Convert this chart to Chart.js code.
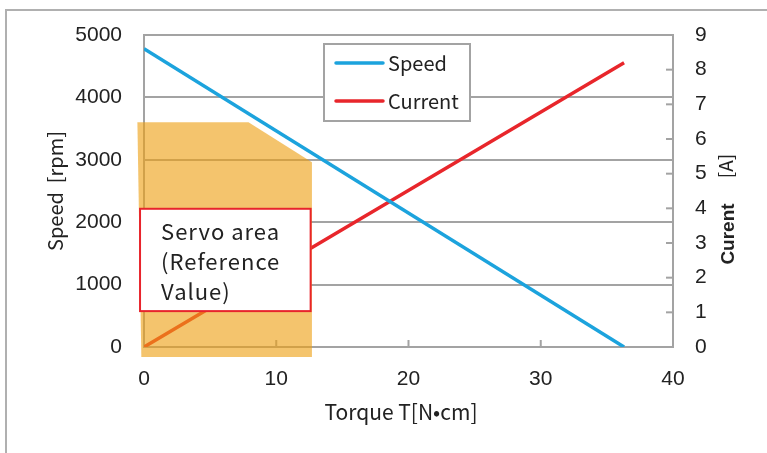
<!DOCTYPE html>
<html>
<head>
<meta charset="utf-8">
<script src="https://cdn.jsdelivr.net/npm/chart.js@4.4.1/dist/chart.umd.min.js"></script>
<style>
  html, body { margin: 0; padding: 0; background: #fff; }
  #wrap { position: relative; width: 767px; height: 453px; overflow: hidden; }
  #frame { position: absolute; left: 5px; top: 9px; width: 900px; height: 600px;
           border-left: 2px solid #b0b0b0; border-top: 2px solid #b0b0b0; }
  canvas { position: absolute; left: 0; top: 0; }
</style>
</head>
<body>
<div id="wrap">
  <div id="frame"></div>
  <canvas id="torqueChart" width="767" height="453"></canvas>
</div>
<script>
// data
const torque = [0, 36.3];
const speed = [4780, 0];
const current = [0, 8.2];

// servo area outline (torque, speed)
const servoX = [-0.5, 7.9, 12.7, 12.7, -0.2];
const servoY = [3600, 3600, 2960, -160, -160];

const xTicks = [0, 10, 20, 30, 40];
const speedTicks = [0, 1000, 2000, 3000, 4000, 5000];
const currentTicks = [0, 1, 2, 3, 4, 5, 6, 7, 8, 9];

const servoText = ['Servo area', '(Reference', 'Value)'];

const gridColor = '#a3a3a3';
const textColor = '#222';
const tickFont = { family: '"Liberation Sans", Arial, sans-serif', size: 21 };
const labelFont = '"Noto Sans CJK JP", "Noto Sans", sans-serif';

function plainLabel(value) {
    return String(value);
}

// servo area + note box + legend + axis titles
const overlayPlugin = {
    id: 'overlay',
    afterDatasetsDraw(chart) {
        const ctx = chart.ctx;
        const x = chart.scales.x;
        const y = chart.scales.y;
        const y2 = chart.scales.y2;
        const area = chart.chartArea;

        // inner tick marks
        ctx.save();
        ctx.strokeStyle = gridColor;
        ctx.lineWidth = 2;
        xTicks.slice(1, -1).forEach(function(v) {
            const px = x.getPixelForValue(v);
            ctx.beginPath();
            ctx.moveTo(px, area.bottom);
            ctx.lineTo(px, area.bottom - 7);
            ctx.stroke();
        });
        currentTicks.slice(1, -1).forEach(function(v) {
            const py = y2.getPixelForValue(v);
            ctx.beginPath();
            ctx.moveTo(area.right, py);
            ctx.lineTo(area.right - 7, py);
            ctx.stroke();
        });
        ctx.restore();

        // servo area polygon
        ctx.save();
        ctx.fillStyle = 'rgba(237, 160, 20, 0.62)';
        ctx.beginPath();
        servoX.forEach(function(v, i) {
            const px = x.getPixelForValue(v);
            const py = y.getPixelForValue(servoY[i]);
            if (i === 0) ctx.moveTo(px, py); else ctx.lineTo(px, py);
        });
        ctx.closePath();
        ctx.fill();
        ctx.restore();

        // note box
        const bx1 = x.getPixelForValue(-0.3);
        const bx2 = x.getPixelForValue(12.6);
        const by1 = y.getPixelForValue(2215);
        const by2 = y.getPixelForValue(575);
        ctx.save();
        ctx.fillStyle = '#fff';
        ctx.fillRect(bx1, by1, bx2 - bx1, by2 - by1);
        ctx.strokeStyle = '#e8242c';
        ctx.lineWidth = 2;
        ctx.strokeRect(bx1, by1, bx2 - bx1, by2 - by1);
        ctx.fillStyle = textColor;
        ctx.font = '22px ' + labelFont;
        ctx.letterSpacing = '1px';
        ctx.textBaseline = 'middle';
        servoText.forEach(function(t, i) {
            ctx.fillText(t, bx1 + 21, by1 + 23 + i * 30);
        });
        ctx.restore();

        // legend box
        ctx.save();
        ctx.fillStyle = '#fff';
        ctx.fillRect(324, 44, 146, 77);
        ctx.strokeStyle = gridColor;
        ctx.lineWidth = 2;
        ctx.strokeRect(324, 44, 146, 77);
        ctx.font = '20px ' + labelFont;
        ctx.textBaseline = 'middle';
        [0, 1].forEach(function(i) {
            const ds = chart.data.datasets[i];
            const ly = 63 + i * 38;
            ctx.strokeStyle = ds.borderColor;
            ctx.lineWidth = 3.5;
            ctx.lineCap = 'round';
            ctx.beginPath();
            ctx.moveTo(336, ly);
            ctx.lineTo(383, ly);
            ctx.stroke();
            ctx.fillStyle = textColor;
            ctx.fillText(ds.label, 388, ly);
        });
        ctx.restore();

        // axis titles
        ctx.save();
        ctx.fillStyle = textColor;
        ctx.textBaseline = 'middle';
        ctx.textAlign = 'center';
        ctx.font = '21px ' + labelFont;
        ctx.fillText('Torque T[N•cm]', 401, 412);

        ctx.translate(55, 191);
        ctx.rotate(-Math.PI / 2);
        ctx.font = '20px ' + labelFont;
        ctx.fillText('Speed  [rpm]', 0, 0);
        ctx.restore();

        ctx.save();
        ctx.fillStyle = textColor;
        ctx.textBaseline = 'middle';
        ctx.textAlign = 'center';
        ctx.translate(729, 210);
        ctx.rotate(-Math.PI / 2);
        ctx.font = 'bold 19px "Liberation Sans", sans-serif';
        ctx.fillText('Curent', -24, 0);
        ctx.font = '19px ' + labelFont;
        ctx.fillText('[A]', 44, -3);
        ctx.restore();
    }
};

const ctx = document.getElementById('torqueChart').getContext('2d');

new Chart(ctx, {
    type: 'scatter',
    data: {
        datasets: [
            {
                label: 'Speed',
                data: torque.map((t, i) => ({ x: t, y: speed[i] })),
                yAxisID: 'y',
                showLine: true,
                borderColor: '#1ca3dd',
                borderWidth: 3.5,
                pointRadius: 0,
                fill: false
            },
            {
                label: 'Current',
                data: torque.map((t, i) => ({ x: t, y: current[i] })),
                yAxisID: 'y2',
                showLine: true,
                borderColor: '#e8262b',
                borderWidth: 3.5,
                pointRadius: 0,
                fill: false
            }
        ]
    },
    options: {
        responsive: false,
        animation: false,
        layout: { padding: { top: 35, left: 0, right: 0, bottom: 0 } },
        plugins: {
            legend: { display: false },
            tooltip: { enabled: false }
        },
        scales: {
            x: {
                type: 'linear',
                min: 0,
                max: 40,
                afterFit: function(scale) { scale.height = 106; },
                afterBuildTicks: function(scale) { scale.ticks = xTicks.map(v => ({ value: v })); },
                grid: { display: true, drawOnChartArea: false, drawTicks: false },
                border: { display: true, color: gridColor, width: 2 },
                ticks: { color: textColor, font: tickFont, padding: 20, maxRotation: 0, callback: plainLabel }
            },
            y: {
                position: 'left',
                min: 0,
                max: 5000,
                afterFit: function(scale) { scale.width = 144; },
                afterBuildTicks: function(scale) { scale.ticks = speedTicks.map(v => ({ value: v })); },
                grid: { color: gridColor, lineWidth: 2, drawTicks: false },
                border: { display: true, color: gridColor, width: 2 },
                ticks: { color: textColor, font: tickFont, padding: 22, callback: plainLabel }
            },
            y2: {
                position: 'right',
                min: 0,
                max: 9,
                afterFit: function(scale) { scale.width = 94; },
                afterBuildTicks: function(scale) { scale.ticks = currentTicks.map(v => ({ value: v })); },
                grid: { drawOnChartArea: false, drawTicks: false },
                border: { display: true, color: gridColor, width: 2 },
                ticks: { color: textColor, font: tickFont, padding: 22, callback: plainLabel }
            }
        }
    },
    plugins: [overlayPlugin]
});
</script>
</body>
</html>
